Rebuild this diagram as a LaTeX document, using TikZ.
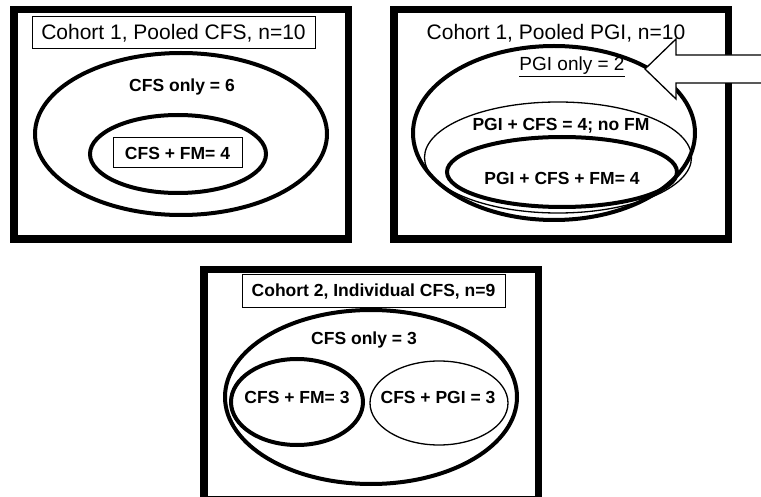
\documentclass[tikz,border=0pt]{standalone}
\usepackage{fontspec}
\setmainfont{Liberation Sans}
\usetikzlibrary{shapes.geometric}
\tikzset{
  panel/.style={draw, line width=7.5pt},
  ring/.style={ellipse, draw, line width=4pt, inner sep=0pt, outer sep=0pt},
  thinring/.style={ellipse, draw, line width=1.3pt, inner sep=0pt, outer sep=0pt},
  titlebox/.style={draw, line width=1pt, fill=white, inner sep=0pt},
  bigtxt/.style={font=\fontsize{21}{24}\selectfont, inner sep=0pt},
  boldtxt/.style={font=\fontsize{17.5}{20}\selectfont\bfseries, inner sep=0pt},
  midtxt/.style={font=\fontsize{19}{22}\selectfont, inner sep=0pt},
}
\begin{document}
\begin{tikzpicture}[x=1pt, y=-1pt]
\useasboundingbox (0,0) rectangle (761,497);
% panels
\draw[panel] (13.75,9.75) rectangle (348.25,239.25);
\draw[panel] (393.75,9.75) rectangle (728.25,239.25);
\draw[panel] (203.75,269.75) rectangle (538.25,500);
% Panel 1
\node[titlebox, minimum width=283pt, minimum height=32pt] (t1) at (173.5,33) {};
\node[bigtxt] (t1txt) at (173.5,33) {Cohort 1, Pooled CFS, n=10};
\node[ring, minimum width=292pt, minimum height=162pt] (o1) at (181,134) {};
\node[boldtxt] (c1) at (182,87) {CFS only = 6};
\node[ring, minimum width=176pt, minimum height=78pt] (i1) at (178,154) {};
\node[titlebox, minimum width=129pt, minimum height=30pt] (b1) at (177.5,153) {};
\node[boldtxt] (b1txt) at (177.5,153) {CFS + FM= 4};
% Panel 2
\node[bigtxt] (t2) at (556,33) {Cohort 1, Pooled PGI, n=10};
\node[ring, minimum width=282pt, minimum height=174pt] (o2) at (554,133) {};
\node[thinring, minimum width=267pt, minimum height=111pt] (m2) at (558,157.5) {};
\node[ring, minimum width=230pt, minimum height=70pt] (i2) at (562,172) {};
\node[midtxt] (p2) at (572,67) {\underline{PGI only = 2}};
\node[boldtxt] (q2) at (561,126) {PGI + CFS = 4; no FM};
\node[boldtxt] (r2) at (562,178) {PGI + CFS + FM= 4};
% arrow
\coordinate (tip) at (645,69);
\draw[line width=1.3pt, fill=white] (tip) -- (676,39) -- (676,55) -- (775,55) -- (775,83) -- (676,83) -- (676,99) -- cycle;
% Panel 3
\node[titlebox, minimum width=263pt, minimum height=33pt] (t3) at (373.5,291.5) {};
\node[boldtxt] (t3txt) at (373.5,291.5) {Cohort 2, Individual CFS, n=9};
\node[ring, minimum width=292pt, minimum height=174pt] (o3) at (371,397) {};
\node[boldtxt] (c3) at (364,340) {CFS only = 3};
\node[ring, minimum width=132pt, minimum height=86pt] (l3) at (297,402) {};
\node[thinring, minimum width=138pt, minimum height=84pt] (r3) at (439,403) {};
\node[boldtxt] (l3txt) at (297,397) {CFS + FM= 3};
\node[boldtxt] (r3txt) at (438,397) {CFS + PGI = 3};
\end{tikzpicture}
\end{document}
